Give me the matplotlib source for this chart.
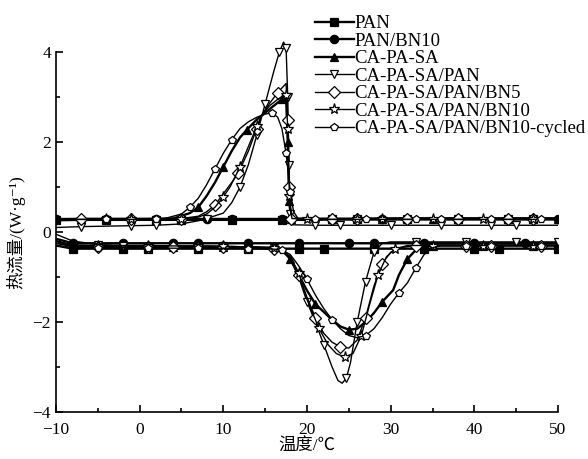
import matplotlib
matplotlib.use("Agg")
import matplotlib.pyplot as plt
from matplotlib.ticker import MultipleLocator

plt.rcParams["font.family"] = ["Liberation Serif", "Noto Sans CJK SC", "DejaVu Sans"]

LABELS = ["PAN", "PAN/BN10", "CA-PA-SA", "CA-PA-SA/PAN", "CA-PA-SA/PAN/BN5",
          "CA-PA-SA/PAN/BN10", "CA-PA-SA/PAN/BN10-cycled"]
MARKERS = ["s", "o", "^", "v", "D", "*", "p"]
FILLED = [True, True, True, False, False, False, False]

# cooling curves (upper, exothermic), temperature in degC, heat flow in W/g
cool_pan_t = [-10, -7, -4, -1, 2, 5, 8, 11, 14, 17, 20, 23, 26, 29, 32, 35, 38, 41, 44, 47, 50]
cool_pan_q = [0.26, 0.27, 0.27, 0.27, 0.27, 0.27, 0.27, 0.27, 0.27, 0.27, 0.27,
              0.28, 0.28, 0.28, 0.28, 0.28, 0.28, 0.28, 0.28, 0.28, 0.28]
cool_bn10_t = [-10, -7, -4, -1, 2, 5, 8, 11, 14, 17, 20, 23, 26, 29, 32, 35, 38, 41, 44, 47, 50]
cool_bn10_q = [0.28, 0.29, 0.29, 0.29, 0.29, 0.29, 0.29, 0.29, 0.29, 0.29, 0.29,
               0.29, 0.29, 0.3, 0.3, 0.3, 0.3, 0.3, 0.3, 0.3, 0.3]
cool_cps_t = [-10, -7, -4, -1, 2, 4, 6, 7, 8, 9, 10, 11, 12, 12.8, 14, 15, 16, 17, 17.5,
              17.7, 17.85, 18.1, 20, 23, 26, 29, 32, 35, 38, 41, 44, 47, 50]
cool_cps_q = [0.28, 0.28, 0.28, 0.28, 0.29, 0.3, 0.42, 0.55, 0.8, 1.1, 1.45, 1.8, 2.1, 2.27,
              2.5, 2.65, 2.8, 2.95, 3.0, 2.0, 0.7, 0.3, 0.29, 0.29, 0.29, 0.29, 0.3, 0.3,
              0.3, 0.3, 0.3, 0.3, 0.3]
cool_p_t = [-10, -7, -4, -1, 2, 5, 7, 8, 9, 10, 11, 12, 13, 14, 15, 16, 16.7, 17.2, 17.5,
            17.7, 17.85, 18.0, 18.3, 21, 24, 27, 30, 33, 36, 39, 42, 45, 48, 50]
cool_p_q = [0.1, 0.12, 0.13, 0.14, 0.15, 0.18, 0.25, 0.3, 0.36, 0.42, 0.65, 1.0, 1.5, 2.15,
            2.85, 3.55, 4.0, 4.22, 4.1, 3.0, 1.5, 0.4, 0.16, 0.15, 0.15, 0.15, 0.15, 0.15,
            0.15, 0.15, 0.15, 0.15, 0.15, 0.15]
cool_bn5_t = [-10, -7, -4, -1, 2, 5, 7, 8, 9, 10, 11, 11.8, 13, 14, 14.6, 15.5, 16.5, 17.5,
              17.7, 17.85, 18.1, 20, 23, 26, 29, 32, 35, 38, 41, 44, 47, 50]
cool_bn5_q = [0.3, 0.3, 0.3, 0.3, 0.3, 0.3, 0.35, 0.45, 0.6, 0.85, 1.1, 1.31, 1.8, 2.3, 2.6,
              2.85, 3.1, 3.3, 2.5, 1.0, 0.3, 0.3, 0.3, 0.3, 0.3, 0.3, 0.3, 0.3, 0.3, 0.3,
              0.3, 0.3]
cool_star_t = [-10, -7, -4, -1, 2, 5, 7, 8, 9, 10, 10.8, 12, 13, 14, 14.6, 15.5, 16.5, 17.5,
               17.7, 17.9, 18.2, 20, 23, 26, 29, 32, 35, 38, 41, 44, 47, 50]
cool_star_q = [0.28, 0.28, 0.28, 0.28, 0.28, 0.28, 0.33, 0.4, 0.55, 0.78, 1.0, 1.45, 1.9,
               2.35, 2.6, 2.8, 2.95, 3.05, 2.3, 0.8, 0.3, 0.28, 0.28, 0.28, 0.28, 0.28,
               0.28, 0.28, 0.28, 0.28, 0.28, 0.28]
cool_cyc_t = [-10, -7, -4, -1, 2, 3, 5, 6, 7, 8, 9, 10, 11, 12, 13, 14, 15, 15.8, 16.5, 17,
              17.5, 18, 18.4, 19, 21, 24, 27, 30, 33, 36, 39, 42, 45, 48, 50]
cool_cyc_q = [0.28, 0.28, 0.28, 0.28, 0.29, 0.3, 0.4, 0.55, 0.75, 1.05, 1.4, 1.75, 2.05, 2.3,
              2.45, 2.55, 2.62, 2.65, 2.55, 2.3, 1.75, 0.9, 0.45, 0.28, 0.28, 0.28, 0.28,
              0.28, 0.28, 0.28, 0.28, 0.28, 0.28, 0.28, 0.28]

# heating curves (lower, endothermic)
heat_pan_t = [-10, -8, -5, -2, 1, 4, 7, 10, 13, 16, 19, 22, 25, 28, 31, 34, 37, 40, 43, 46, 50]
heat_pan_q = [-0.3, -0.37, -0.37, -0.37, -0.37, -0.37, -0.37, -0.37, -0.37, -0.37, -0.37,
              -0.37, -0.37, -0.37, -0.37, -0.37, -0.37, -0.37, -0.37, -0.37, -0.37]
heat_bn10_t = [-10, -8, -5, -2, 1, 4, 7, 10, 13, 16, 19, 22, 25, 28, 31, 34, 37, 40, 43, 46, 50]
heat_bn10_q = [-0.15, -0.25, -0.25, -0.25, -0.25, -0.25, -0.25, -0.25, -0.25, -0.25, -0.25,
               -0.25, -0.25, -0.25, -0.25, -0.25, -0.25, -0.25, -0.25, -0.25, -0.25]
heat_cps_t = [-10, -8, -5, -2, 1, 4, 7, 10, 13, 16, 17, 18, 19, 20, 21, 22.7, 24, 25, 26, 27,
              28, 29, 30.3, 31, 32, 33, 34, 35, 38, 41, 44, 47, 50]
heat_cps_q = [-0.2, -0.3, -0.31, -0.32, -0.32, -0.33, -0.33, -0.33, -0.34, -0.35, -0.4, -0.6,
              -0.95, -1.3, -1.6, -1.9, -2.1, -2.17, -2.15, -2.0, -1.8, -1.55, -1.29, -0.95,
              -0.6, -0.4, -0.32, -0.3, -0.3, -0.3, -0.3, -0.3, -0.3]
heat_p_t = [-10, -8, -5, -2, 1, 4, 7, 10, 13, 16, 17, 18, 19, 20, 21, 22, 23, 23.7, 24.2, 24.7,
            25.2, 26, 27, 28, 29, 30, 33, 36, 39, 42, 45, 48, 50]
heat_p_q = [-0.05, -0.2, -0.28, -0.3, -0.3, -0.31, -0.31, -0.32, -0.33, -0.35, -0.4, -0.6,
            -1.0, -1.55, -2.0, -2.5, -3.0, -3.3, -3.36, -3.25, -2.9, -2.0, -1.1, -0.45, -0.25,
            -0.22, -0.22, -0.22, -0.22, -0.22, -0.22, -0.22, -0.22]
heat_bn5_t = [-10, -8, -5, -2, 1, 4, 7, 10, 13, 16, 17, 18, 19, 20, 21, 22, 23, 24, 25, 26, 27,
              28, 29, 30, 31, 33, 36, 39, 42, 45, 48, 50]
heat_bn5_q = [-0.25, -0.33, -0.33, -0.33, -0.33, -0.34, -0.34, -0.34, -0.35, -0.37, -0.4,
              -0.55, -0.95, -1.45, -1.9, -2.25, -2.45, -2.55, -2.58, -2.4, -1.9, -1.2, -0.7,
              -0.45, -0.35, -0.3, -0.3, -0.3, -0.3, -0.3, -0.3, -0.3]
heat_star_t = [-10, -8, -5, -2, 1, 4, 7, 10, 13, 16, 17, 18, 19, 20, 21.4, 22.5, 23.5, 24.5,
               25.5, 26.5, 27.5, 28.5, 29.5, 30.5, 32, 35, 38, 41, 44, 47, 50]
heat_star_q = [-0.25, -0.3, -0.3, -0.3, -0.3, -0.31, -0.31, -0.32, -0.33, -0.36, -0.4, -0.55,
               -0.9, -1.5, -2.13, -2.5, -2.7, -2.78, -2.7, -2.3, -1.6, -0.95, -0.55, -0.38,
               -0.3, -0.3, -0.3, -0.3, -0.3, -0.3, -0.3]
heat_cyc_t = [-10, -8, -5, -2, 1, 4, 7, 10, 13, 16, 17, 18, 19, 20, 21, 22, 23, 24, 25, 26, 27,
              28, 29, 30, 31, 32, 33, 34, 35, 36, 39, 42, 45, 48, 50]
heat_cyc_q = [-0.3, -0.35, -0.35, -0.35, -0.35, -0.36, -0.36, -0.36, -0.37, -0.38, -0.4, -0.5,
              -0.75, -1.05, -1.4, -1.7, -1.95, -2.15, -2.3, -2.35, -2.3, -2.15, -1.9, -1.6,
              -1.35, -1.13, -0.8, -0.5, -0.35, -0.3, -0.3, -0.3, -0.3, -0.3, -0.3]

COOL = [(cool_pan_t, cool_pan_q), (cool_bn10_t, cool_bn10_q), (cool_cps_t, cool_cps_q),
        (cool_p_t, cool_p_q), (cool_bn5_t, cool_bn5_q), (cool_star_t, cool_star_q),
        (cool_cyc_t, cool_cyc_q)]
HEAT = [(heat_pan_t, heat_pan_q), (heat_bn10_t, heat_bn10_q), (heat_cps_t, heat_cps_q),
        (heat_p_t, heat_p_q), (heat_bn5_t, heat_bn5_q), (heat_star_t, heat_star_q),
        (heat_cyc_t, heat_cyc_q)]

fig = plt.figure(figsize=(5.88, 4.59), dpi=100)
# y from -4 to 4.4 so the tallest peak is not cut; spine stops at 4
ax = fig.add_axes([0.0952, 0.1024, 0.8538, 0.8235])

for i, lab in enumerate(LABELS):
    lw = 1.7 if i < 3 else 1.0
    style = dict(color="black", lw=lw, marker=MARKERS[i],
                 ms=8 if MARKERS[i] == "*" else 6, mew=0.9, mec="black",
                 mfc="black" if FILLED[i] else "white")
    t, q = COOL[i]
    ax.plot(t, q, label=lab, markevery=(0.012 * i, 0.07), **style)
    t, q = HEAT[i]
    ax.plot(t, q, markevery=(0.01 * i + 0.02, 0.07), **style)

ax.set_xlim(-10, 50)
ax.set_ylim(-4, 4.4)
ax.spines["left"].set_bounds(-4, 4)
ax.xaxis.set_major_locator(MultipleLocator(10))
ax.xaxis.set_minor_locator(MultipleLocator(5))
ax.set_yticks([-4, -2, 0, 2, 4])
ax.set_yticks([-3, -1, 1, 3], minor=True)
ax.tick_params(which="both", direction="in", labelsize=12.5, width=1.2)
ax.tick_params(which="major", length=5)
ax.tick_params(which="minor", length=3)
ax.tick_params(axis="x", pad=7)
for s in ["top", "right"]:
    ax.spines[s].set_visible(False)
for s in ["left", "bottom"]:
    ax.spines[s].set_linewidth(1.2)

ax.set_xlabel("温度/℃", fontsize=12.5, labelpad=1)
ax.set_ylabel("热流量/(W·g⁻¹)", fontsize=12.5, labelpad=2)
ax.yaxis.set_label_coords(-0.062, 0.476)

ax.legend(loc="upper left", bbox_to_anchor=(0.535, 0.967), bbox_transform=fig.transFigure,
          frameon=False, fontsize=13.5, handlelength=2.1, handletextpad=0.0,
          labelspacing=0.02, borderpad=0, borderaxespad=0)

fig.savefig("out.png", dpi=100)
